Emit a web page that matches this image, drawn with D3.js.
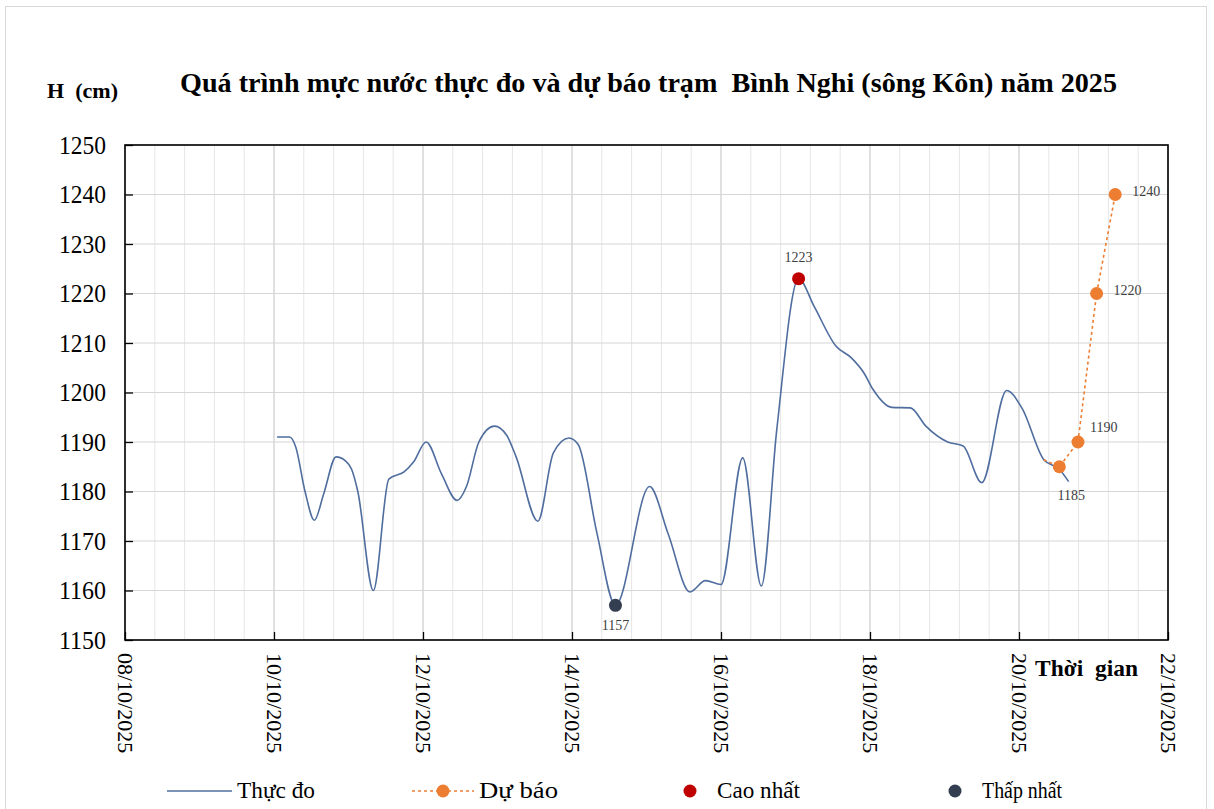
<!DOCTYPE html>
<html lang="vi">
<head>
<meta charset="UTF-8">
<title>Bình Nghi</title>
<script src="https://cdn.jsdelivr.net/npm/d3@7"></script>
<style>
  body { margin: 0; padding: 0; background: #fff; }
</style>
</head>
<body>
<div id="chart"></div>
<script>
// thuc do (hourly readings, sampled off the chart)
var obsTimes = [
  "2025-10-10 01:00", "2025-10-10 05:00", "2025-10-10 07:00", "2025-10-10 10:00",
  "2025-10-10 13:00", "2025-10-10 16:00", "2025-10-10 20:00", "2025-10-10 23:00",
  "2025-10-11 01:00", "2025-10-11 03:00", "2025-10-11 08:00", "2025-10-11 13:00",
  "2025-10-11 18:00", "2025-10-11 21:00", "2025-10-12 01:00", "2025-10-12 06:00",
  "2025-10-12 11:00", "2025-10-12 14:00", "2025-10-12 18:00", "2025-10-12 23:00",
  "2025-10-13 03:00", "2025-10-13 06:00", "2025-10-13 13:00", "2025-10-13 18:00",
  "2025-10-13 23:00", "2025-10-14 02:00", "2025-10-14 08:00", "2025-10-14 14:00",
  "2025-10-15 01:00", "2025-10-15 07:00", "2025-10-15 14:00", "2025-10-15 19:00",
  "2025-10-16 00:00", "2025-10-16 07:00", "2025-10-16 13:00", "2025-10-16 18:00",
  "2025-10-17 01:00", "2025-10-17 06:00", "2025-10-17 13:00", "2025-10-17 18:00",
  "2025-10-17 22:00", "2025-10-18 01:00", "2025-10-18 07:00", "2025-10-18 13:00",
  "2025-10-18 18:00", "2025-10-19 01:00", "2025-10-19 06:00", "2025-10-19 12:00",
  "2025-10-19 20:00", "2025-10-20 01:00", "2025-10-20 08:00", "2025-10-20 13:00",
  "2025-10-20 16:00"
];
var obsValues = [
  1191, 1191, 1189, 1180,
  1174.2, 1179.5, 1187, 1186.2,
  1184.5, 1180, 1160, 1182.5,
  1184, 1186, 1190, 1183.5,
  1178.2, 1181, 1190, 1193.2,
  1191.3, 1187, 1174, 1187.8,
  1190.8, 1189.5, 1171.7, 1157,
  1181, 1171.4, 1159.7, 1162,
  1161.2, 1186.8, 1160.9, 1192.7,
  1223, 1217.4, 1209.4, 1207,
  1204, 1200.6, 1197, 1196.9,
  1193.2, 1190, 1189.2, 1181.8,
  1200.4, 1196.8, 1186.4, 1184.5,
  1182
];

// du bao
var fcStartTime = "2025-10-20 08:00";
var fcStartValue = 1186.4;
var fcTimes = ["2025-10-20 13:00", "2025-10-20 19:00", "2025-10-21 01:00", "2025-10-21 07:00"];
var fcValues = [1185, 1190, 1220, 1240];
var fcLabelPlace = ["belowRight", "aboveRight", "right", "right"];

var xTickLabels = ["08/10/2025", "10/10/2025", "12/10/2025", "14/10/2025",
                   "16/10/2025", "18/10/2025", "20/10/2025", "22/10/2025"];
var yTicks = [1150, 1160, 1170, 1180, 1190, 1200, 1210, 1220, 1230, 1240, 1250];

var legendLabels = ["Thực đo", "Dự báo", "Cao nhất", "Thấp nhất"];

var W = 1214, H = 809;
var m = {left: 125, right: 1168, top: 145, bottom: 640};
var FONT = "'Times New Roman', 'Liberation Serif', serif";

var C_OBS = "#4f6d9e", C_FC = "#ed7d31", C_MAX = "#c00000", C_MIN = "#333f50";

var parseT = d3.timeParse("%Y-%m-%d %H:%M");
var parseD = d3.timeParse("%d/%m/%Y");

var obs = obsTimes.map(function(t, i) { return {t: parseT(t), v: obsValues[i]}; });
var fc = fcTimes.map(function(t, i) { return {t: parseT(t), v: fcValues[i], pos: fcLabelPlace[i]}; });
var tickDates = xTickLabels.map(parseD);

var x = d3.scaleTime()
          .domain([tickDates[0], tickDates[tickDates.length - 1]])
          .range([m.left, m.right]);
var y = d3.scaleLinear().domain([1150, 1250]).range([m.bottom, m.top]);

var svg = d3.select("#chart").append("svg")
            .attr("width", W).attr("height", H)
            .attr("font-family", FONT);

svg.append("rect").attr("width", W).attr("height", H).attr("fill", "#fff");
svg.append("rect")
   .attr("x", 5.5).attr("y", 6.5).attr("width", 1201).attr("height", 820)
   .attr("fill", "none").attr("stroke", "#d9d9d9").attr("stroke-width", 1);

// minor vertical grid, every 0.4 day
var dayMs = 864e5;
var minor = d3.range(0, 14.001, 0.4).map(function(d) { return new Date(+tickDates[0] + d * dayMs); });
svg.append("g").selectAll("line").data(minor).enter().append("line")
   .attr("x1", function(d) { return x(d); }).attr("x2", function(d) { return x(d); })
   .attr("y1", m.top).attr("y2", m.bottom)
   .attr("stroke", "#e6e6e6").attr("stroke-width", 1);

// major grids
svg.append("g").selectAll("line").data(tickDates).enter().append("line")
   .attr("x1", function(d) { return x(d); }).attr("x2", function(d) { return x(d); })
   .attr("y1", m.top).attr("y2", m.bottom)
   .attr("stroke", "#cdcdcd").attr("stroke-width", 1);
svg.append("g").selectAll("line").data(yTicks).enter().append("line")
   .attr("x1", m.left).attr("x2", m.right)
   .attr("y1", function(d) { return y(d); }).attr("y2", function(d) { return y(d); })
   .attr("stroke", "#d6d6d6").attr("stroke-width", 1.2);

// axes
var yAxis = svg.append("g")
   .attr("transform", "translate(" + m.left + ",0)")
   .call(d3.axisLeft(y).tickValues(yTicks).tickSize(-8).tickPadding(19).tickSizeOuter(0)
           .tickFormat(d3.format("d")));
yAxis.attr("font-family", FONT);
yAxis.selectAll("text")
     .attr("font-size", 25).attr("fill", "#000")
     .attr("textLength", 47).attr("lengthAdjust", "spacingAndGlyphs");

var xAxis = svg.append("g")
   .attr("transform", "translate(0," + m.bottom + ")")
   .call(d3.axisBottom(x).tickValues(tickDates).tickSize(-8).tickSizeOuter(0)
           .tickFormat(d3.timeFormat("%d/%m/%Y")));
xAxis.attr("font-family", FONT);
xAxis.selectAll("text")
     .attr("transform", "rotate(90)")
     .attr("x", 13).attr("y", 0).attr("dy", "0.35em")
     .attr("text-anchor", "start").attr("font-size", 22)
     .attr("fill", "#000");
svg.selectAll(".domain").remove();
svg.selectAll(".tick line").attr("stroke", "#000").attr("stroke-width", 1.3);

svg.append("rect")
   .attr("x", m.left).attr("y", m.top)
   .attr("width", m.right - m.left).attr("height", m.bottom - m.top)
   .attr("fill", "none").attr("stroke", "#000").attr("stroke-width", 1.6);

// observed line
var line = d3.line()
             .x(function(d) { return x(d.t); })
             .y(function(d) { return y(d.v); })
             .curve(d3.curveMonotoneX);
svg.append("path").datum(obs)
   .attr("d", line).attr("fill", "none")
   .attr("stroke", C_OBS).attr("stroke-width", 1.6);

// forecast line
var fcLine = [{t: parseT(fcStartTime), v: fcStartValue}].concat(fc);
svg.append("path").datum(fcLine)
   .attr("d", d3.line().x(function(d) { return x(d.t); }).y(function(d) { return y(d.v); }))
   .attr("fill", "none").attr("stroke", C_FC)
   .attr("stroke-width", 1.6).attr("stroke-dasharray", "3,3");

svg.append("g").selectAll("circle").data(fc).enter().append("circle")
   .attr("cx", function(d) { return x(d.t); }).attr("cy", function(d) { return y(d.v); })
   .attr("r", 6.5).attr("fill", C_FC);

var place = {
  belowRight: [12, 33, "middle"],
  aboveRight: [12, -10, "start"],
  right: [17, 1, "start"]
};
svg.append("g").selectAll("text").data(fc).enter().append("text")
   .attr("x", function(d) { return x(d.t) + place[d.pos][0]; })
   .attr("y", function(d) { return y(d.v) + place[d.pos][1]; })
   .attr("text-anchor", function(d) { return place[d.pos][2]; })
   .attr("font-size", 14).attr("fill", "#404040")
   .text(function(d) { return d.v; });

// highest / lowest
var hi = obs[d3.maxIndex(obs, function(d) { return d.v; })];
var lo = obs[d3.minIndex(obs, function(d) { return d.v; })];

svg.append("circle").attr("cx", x(hi.t)).attr("cy", y(hi.v)).attr("r", 6.5).attr("fill", C_MAX);
svg.append("text").attr("x", x(hi.t)).attr("y", y(hi.v) - 17)
   .attr("text-anchor", "middle").attr("font-size", 14).attr("fill", "#404040")
   .text(hi.v);
svg.append("circle").attr("cx", x(lo.t)).attr("cy", y(lo.v)).attr("r", 6.5).attr("fill", C_MIN);
svg.append("text").attr("x", x(lo.t)).attr("y", y(lo.v) + 25)
   .attr("text-anchor", "middle").attr("font-size", 14).attr("fill", "#404040")
   .text(lo.v);

// titles
svg.append("text")
   .attr("x", 180).attr("y", 92)
   .attr("textLength", 937).attr("lengthAdjust", "spacingAndGlyphs")
   .attr("font-size", 28).attr("font-weight", "bold")
   .style("white-space", "pre")
   .text("Quá trình mực nước thực đo và dự báo trạm  Bình Nghi (sông Kôn) năm 2025");
svg.append("text")
   .attr("x", 47).attr("y", 98)
   .attr("textLength", 71).attr("lengthAdjust", "spacingAndGlyphs")
   .attr("font-size", 22).attr("font-weight", "bold")
   .style("white-space", "pre")
   .text("H  (cm)");
svg.append("text")
   .attr("x", 1035).attr("y", 676)
   .attr("textLength", 103).attr("lengthAdjust", "spacingAndGlyphs")
   .attr("font-size", 23).attr("font-weight", "bold")
   .style("white-space", "pre")
   .text("Thời  gian");

// legend
var ly = 791;
var lg = svg.append("g");
var lx = [167, 412, 678, 943];
lg.append("line").attr("x1", lx[0]).attr("x2", lx[0] + 65).attr("y1", ly).attr("y2", ly)
  .attr("stroke", C_OBS).attr("stroke-width", 1.6);
lg.append("line").attr("x1", lx[1]).attr("x2", lx[1] + 62).attr("y1", ly).attr("y2", ly)
  .attr("stroke", C_FC).attr("stroke-width", 1.6).attr("stroke-dasharray", "3,3");
lg.append("circle").attr("cx", lx[1] + 31).attr("cy", ly).attr("r", 6.5).attr("fill", C_FC);
lg.append("circle").attr("cx", lx[2] + 12).attr("cy", ly).attr("r", 6.5).attr("fill", C_MAX);
lg.append("circle").attr("cx", lx[3] + 12).attr("cy", ly).attr("r", 6.5).attr("fill", C_MIN);
var textX = [237, 479, 717, 982];
var textW = [78, 79, 83, 80];
lg.selectAll("text").data(legendLabels).enter().append("text")
  .attr("x", function(d, i) { return textX[i]; })
  .attr("y", ly + 7)
  .attr("textLength", function(d, i) { return textW[i]; })
  .attr("lengthAdjust", "spacingAndGlyphs")
  .attr("font-size", 23).attr("fill", "#000")
  .text(function(d) { return d; });
</script>
</body>
</html>
